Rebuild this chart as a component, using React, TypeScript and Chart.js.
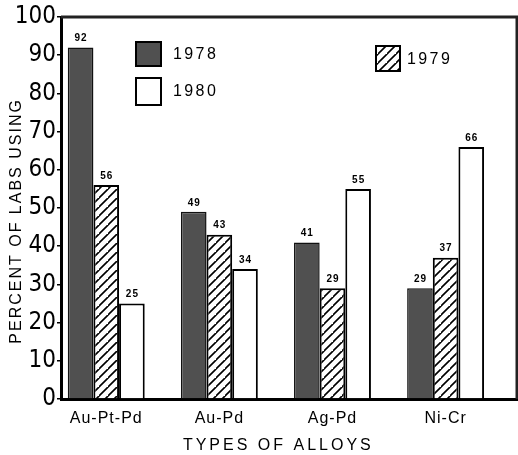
import React, { useEffect, useRef } from "react";
import { Chart, registerables, LinearScale } from "chart.js";

const CATEGORIES = ["Au-Pt-Pd", "Au-Pd", "Ag-Pd", "Ni-Cr"];
const SERIES_LABELS = ["1978", "1979", "1980"];
const VALUES_1978 = [92, 49, 41, 29];
const VALUES_1979 = [56, 43, 29, 37];
const VALUES_1980 = [25, 34, 55, 66];
const Y_TICKS = [0, 10, 20, 30, 40, 50, 60, 70, 80, 90, 100];

const SPACING: Record<string, { title: string; ticks: string }> = {
  x: { title: "3px", ticks: "1px" },
  y: { title: "2px", ticks: "0px" },
};

class SpacedLinear extends LinearScale {
  static id = "spacedLinear";
  static defaults = LinearScale.defaults;
  drawTitle() {
    const ctx: any = this.ctx;
    ctx.save();
    ctx.letterSpacing = SPACING[this.id]?.title ?? "0px";
    // @ts-ignore
    super.drawTitle();
    ctx.restore();
  }
  drawLabels(area: any) {
    const ctx: any = this.ctx;
    ctx.save();
    ctx.letterSpacing = SPACING[this.id]?.ticks ?? "0px";
    // @ts-ignore
    super.drawLabels(area);
    ctx.restore();
  }
}

Chart.register(...registerables, SpacedLinear as any);

function makeHatch(): CanvasPattern | string {
  const c = document.createElement("canvas");
  const s = 9;
  c.width = s;
  c.height = s;
  const g = c.getContext("2d");
  if (!g) return "#fff";
  g.fillStyle = "#fff";
  g.fillRect(0, 0, s, s);
  g.strokeStyle = "#000";
  g.lineWidth = 1.6;
  g.beginPath();
  g.moveTo(-1, s + 1);
  g.lineTo(s + 1, -1);
  g.moveTo(-1 - s, s + 1);
  g.lineTo(1, -1);
  g.moveTo(s - 1, 2 * s + 1);
  g.lineTo(2 * s + 1, s - 1);
  g.stroke();
  const p = g.createPattern(c, "repeat");
  return p || "#fff";
}

const framePlugin = {
  id: "frame",
  afterDraw(chart: any) {
    const { ctx, chartArea } = chart;
    ctx.save();
    ctx.strokeStyle = "#222";
    ctx.lineWidth = 3;
    ctx.beginPath();
    ctx.moveTo(chartArea.left, chartArea.top);
    ctx.lineTo(chartArea.right - 1, chartArea.top);
    ctx.lineTo(chartArea.right - 1, chartArea.bottom);
    ctx.stroke();
    ctx.restore();
  },
};

const valueLabelPlugin = {
  id: "valueLabels",
  afterDatasetsDraw(chart: any) {
    const { ctx } = chart;
    ctx.save();
    ctx.font = "bold 10px 'Liberation Sans', Arial, sans-serif";
    (ctx as any).letterSpacing = "1px";
    ctx.fillStyle = "#000";
    ctx.textAlign = "center";
    ctx.textBaseline = "bottom";
    chart.data.datasets.forEach((ds: any, di: number) => {
      const meta = chart.getDatasetMeta(di);
      meta.data.forEach((el: any, i: number) => {
        const v = ds.data[i].y;
        ctx.fillText(String(v), el.x + 0.5, el.y - 4);
      });
    });
    ctx.restore();
  },
};

const legendPlugin = {
  id: "customLegend",
  afterDraw(chart: any) {
    const { ctx, chartArea } = chart;
    const L = chartArea.left;
    const T = chartArea.top;
    const slots = [
      { bx: 75, by: 25, bw: 25, bh: 24, tx: 112, ty: 38 },
      { bx: 315, by: 29, bw: 24, bh: 25, tx: 346, ty: 43 },
      { bx: 75, by: 61, bw: 25, bh: 27, tx: 112, ty: 75 },
    ];
    ctx.save();
    chart.data.datasets.forEach((ds: any, i: number) => {
      const s = slots[i];
      const x = L + s.bx;
      const y = T + s.by;
      ctx.fillStyle = ds.backgroundColor;
      ctx.fillRect(x, y, s.bw, s.bh);
      ctx.strokeStyle = "#000";
      ctx.lineWidth = 2;
      ctx.strokeRect(x, y, s.bw, s.bh);
      ctx.fillStyle = "#000";
      ctx.font = "16px 'Liberation Sans', Arial, sans-serif";
      (ctx as any).letterSpacing = "2.4px";
      ctx.textAlign = "left";
      ctx.textBaseline = "middle";
      ctx.fillText(ds.label, L + s.tx, T + s.ty);
    });
    ctx.restore();
  },
};

export default function App() {
  const ref = useRef<HTMLCanvasElement | null>(null);

  useEffect(() => {
    if (!ref.current) return;
    const hatch = makeHatch();
    const toPoints = (vals: number[]) => vals.map((v, i) => ({ x: i, y: v }));
    const chart = new Chart(ref.current, {
      type: "bar",
      data: {
        datasets: [
          {
            label: SERIES_LABELS[0],
            data: toPoints(VALUES_1978) as any,
            backgroundColor: "#505050",
            borderColor: "#111",
            borderWidth: 1.5,
          },
          {
            label: SERIES_LABELS[1],
            data: toPoints(VALUES_1979) as any,
            backgroundColor: hatch as any,
            borderColor: "#000",
            borderWidth: 2,
          },
          {
            label: SERIES_LABELS[2],
            data: toPoints(VALUES_1980) as any,
            backgroundColor: "#ffffff",
            borderColor: "#000",
            borderWidth: 2,
          },
        ],
      },
      options: {
        responsive: false,
        animation: false,
        layout: { padding: { top: 17, right: 0, bottom: 0, left: 0 } },
        datasets: {
          bar: { categoryPercentage: 0.68, barPercentage: 1 },
        } as any,
        plugins: {
          legend: { display: false },
          tooltip: { enabled: false },
        },
        scales: {
          x: {
            type: "spacedLinear" as any,
            min: -0.4,
            max: 3.64,
            offset: false,
            grid: { display: false, drawTicks: false },
            border: { display: true, color: "#000", width: 3 },
            afterBuildTicks: (scale: any) => {
              scale.ticks = CATEGORIES.map((_, i) => ({ value: i }));
            },
            afterFit: (scale: any) => {
              scale.height = 56;
            },
            ticks: {
              autoSkip: false,
              maxRotation: 0,
              padding: 10,
              color: "#000",
              font: { size: 16, family: "'Liberation Sans', Arial, sans-serif" },
              callback: (v: any) => CATEGORIES[v] ?? "",
            },
            title: {
              display: true,
              text: "TYPES OF ALLOYS   ",
              color: "#000",
              padding: { top: 0, bottom: 0 },
              font: { size: 16, family: "'Liberation Sans', Arial, sans-serif" },
            },
          } as any,
          y: {
            type: "spacedLinear" as any,
            min: 0,
            max: 100,
            afterBuildTicks: (scale: any) => {
              scale.ticks = Y_TICKS.map((v) => ({ value: v }));
            },
            afterFit: (scale: any) => {
              scale.width = 61;
            },
            grid: {
              display: true,
              drawOnChartArea: false,
              drawTicks: true,
              tickLength: 4,
              color: "#000",
              lineWidth: 1.5,
            },
            border: { display: true, color: "#000", width: 3 },
            ticks: {
              padding: 1,
              color: "#000",
              font: {
                size: 24,
                family: "'Liberation Sans Narrow', 'DejaVu Sans Condensed', 'DejaVu Sans Mono', monospace",
              },
              callback: (v: any) => String(v),
            },
            title: {
              display: true,
              text: "PERCENT OF LABS USING    ",
              color: "#000",
              padding: { top: 7, bottom: 0 },
              font: { size: 16, family: "'Liberation Sans', Arial, sans-serif" },
            },
          } as any,
        },
      },
      plugins: [framePlugin, valueLabelPlugin, legendPlugin],
    });
    return () => chart.destroy();
  }, []);

  return (
    <div style={{ position: "absolute", left: 0, top: 0, width: 518, height: 455, background: "#fff" }}>
      <canvas ref={ref} width={518} height={455} />
    </div>
  );
}
